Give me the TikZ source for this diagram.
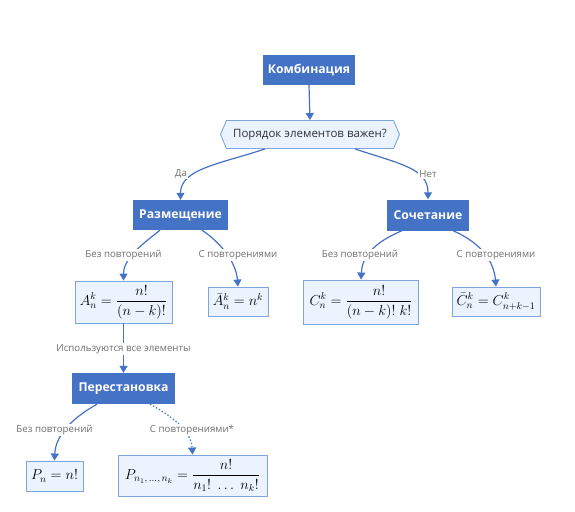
\documentclass[tikz,border=0pt]{standalone}
\usepackage{amsmath}
\usepackage{fontspec}
\setmainfont{Open Sans}
\usetikzlibrary{arrows.meta,shapes.symbols}
\definecolor{dk}{HTML}{4472C4}
\definecolor{lf}{HTML}{EAF3FE}
\definecolor{lb}{HTML}{7DA6DE}
\definecolor{lt}{HTML}{707070}
\begin{document}
\begin{tikzpicture}[x=1pt,y=-1pt,
  main/.style={fill=dk,text=white,font=\fontsize{12.2}{14}\selectfont\bfseries,inner sep=0pt,minimum height=30pt},
  formula/.style={fill=lf,draw=lb,line width=0.9pt,inner sep=0pt,font=\fontsize{14.3}{16}\selectfont},
  lbl/.style={fill=white,text=lt,font=\fontsize{9.7}{11}\selectfont,inner sep=1pt},
  edge/.style={draw=dk,line width=1.2pt,-{Triangle[width=8pt,length=7pt]}},
  dotedge/.style={edge,dash pattern=on 1.4pt off 2pt},
]
\useasboundingbox (0,0) rectangle (575,511);
% nodes
\node[main,minimum width=92pt] (komb) at (309,70) {Комбинация};
\node[signal,signal to=east and west,signal pointer angle=134,fill=lf,draw=lb,line width=0.9pt,
  minimum height=28pt,minimum width=179pt,inner sep=0pt,text=black!80,font=\fontsize{11.5}{13}\selectfont] (q) at (310,134.5) {Порядок элементов важен?};
\node[main,minimum width=95pt] (raz) at (180.5,215) {Размещение};
\node[main,minimum width=82pt,minimum height=31pt] (soch) at (428,215) {Сочетание};
\node[formula,minimum width=97pt,minimum height=42pt] (A) at (123.5,302) {$A_n^k=\dfrac{n!}{(n-k)!}$};
\node[formula,minimum width=60pt,minimum height=29pt] (Ab) at (238,301.5) {$\bar{A}_n^k=n^k$};
\node[formula,minimum width=115pt,minimum height=44pt] (C) at (361,302) {$C_n^k=\dfrac{n!}{(n-k)!\;k!}$};
\node[formula,minimum width=88pt,minimum height=29pt] (Cb) at (496,301.5) {$\bar{C}_n^k=C_{n+k-1}^k$};
\node[main,minimum width=103pt,minimum height=31pt] (per) at (123.5,388.5) {Перестановка};
\node[formula,minimum width=57pt,minimum height=30pt] (Pn) at (54.5,476) {$P_n=n!$};
\node[formula,minimum width=149pt,minimum height=41pt] (Pm) at (192.5,475.5) {$P_{n_1,\,\ldots,\,n_k}=\dfrac{n!}{n_1!\;\ldots\;n_k!}$};
% edges
\draw[edge] (komb.south) -- (q.north);
\draw[edge] ([xshift=-45pt]q.south) .. controls +(-45,15) and +(0,-31) .. (raz.north);
\draw[edge] ([xshift=45pt]q.south) .. controls +(45,15) and +(0,-31) .. (soch.north);
\draw[edge] ([xshift=-20.5pt]raz.south) .. controls +(-15,12) and +(0,-23) .. (A.north);
\draw[edge] ([xshift=21.5pt]raz.south) .. controls +(18,12) and +(-2,-25) .. (Ab.north);
\draw[edge] ([xshift=-26pt]soch.south) .. controls +(-29,12) and +(1,-22) .. (C.north);
\draw[edge] ([xshift=25pt]soch.south) .. controls +(28,12) and +(-2,-25) .. (Cb.north);
\draw[edge] (A.south) -- (per.north);
\draw[edge] ([xshift=-26.5pt]per.south) .. controls +(-27,15) and +(1,-24) .. (Pn.north);
\draw[dotedge] ([xshift=26.5pt]per.south) .. controls +(28,15) and +(-1,-20) .. (Pm.north);
% labels
\node[lbl] (l1) at (181,174) {Да};
\node[lbl] (l2) at (428,174) {Нет};
\node[lbl] (l3) at (123.5,255) {Без повторений};
\node[lbl] (l4) at (238,255) {С повторениями};
\node[lbl] (l5) at (360,255) {Без повторений};
\node[lbl] (l6) at (496,255) {С повторениями};
\node[lbl] (l7) at (123.5,349) {Используются все элементы};
\node[lbl] (l8) at (54.5,430) {Без повторений};
\node[lbl] (l9) at (192,430) {С повторениями*};
\end{tikzpicture}
\end{document}
